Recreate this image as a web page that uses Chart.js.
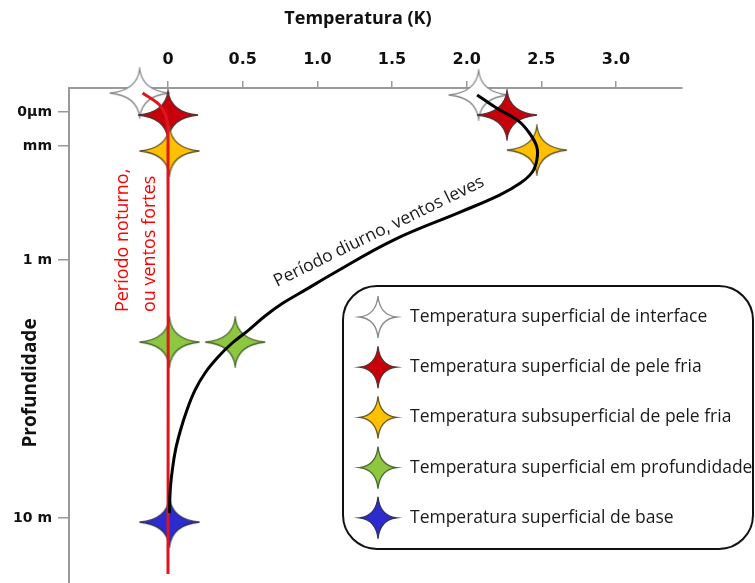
<!DOCTYPE html>
<html>
<head>
<meta charset="utf-8">
<script src="https://cdn.jsdelivr.net/npm/chart.js@4"></script>
<style>
  html, body { margin: 0; padding: 0; background: #fff; }
  #wrap { width: 755px; height: 583px; }
</style>
</head>
<body>
<div id="wrap"><canvas id="perfil"></canvas></div>
<script>
/* Perfil vertical de temperatura (esquemático) — profundidade em unidades
   esquemáticas, eixo invertido (superfície no topo). */

const tempTickVals = [0, 0.5, 1.0, 1.5, 2.0, 2.5, 3.0];
const tempTickLabels = ["0", "0.5", "1.0", "1.5", "2.0", "2.5", "3.0"];

const depthTickVals = [0.8, 1.93, 5.73, 14.33];
const depthTickLabels = ["0μm", "mm", "1 m", "10 m"];

// Período diurno, ventos leves (curva preta)
const diurnoX = [2.07, 2.20, 2.34, 2.42, 2.47, 2.47, 2.44, 2.36, 2.22, 1.96, 1.51, 1.10, 0.92, 0.77, 0.65, 0.54, 0.43, 0.335, 0.248, 0.181, 0.127, 0.084, 0.050, 0.029, 0.015, 0.010];
const diurnoY = [0.23, 0.67, 1.07, 1.5, 1.97, 2.4, 2.8, 3.17, 3.57, 4.13, 5.07, 6.2, 6.73, 7.17, 7.6, 8.07, 8.5, 8.97, 9.5, 10.07, 10.73, 11.4, 12.07, 12.73, 13.4, 14.17];

// Período noturno, ou ventos fortes (linha vermelha)
const noturnoX = [-0.17, -0.06, -0.01, 0.0, 0.0];
const noturnoY = [0.17, 0.55, 1.0, 1.6, 16.2];

// estrelas
const interfaceX = [-0.19, 2.08];
const interfaceY = [0.17, 0.23];
const peleFriaX = [0.0, 2.27];
const peleFriaY = [0.9, 0.9];
const subPeleX = [0.01, 2.47];
const subPeleY = [2.1, 2.07];
const profundX = [0.01, 0.45];
const profundY = [8.47, 8.47];
const baseX = [0.01];
const baseY = [14.47];

const legendLabels = [
  "Temperatura superficial de interface",
  "Temperatura superficial de pele fria",
  "Temperatura subsuperficial de pele fria",
  "Temperatura superficial em profundidade",
  "Temperatura superficial de base",
];
const starColors = ["#ffffff", "#c8000a", "#ffc000", "#8dc63f", "#2b2bd0"];
const starEdges = ["#8a8a8a", "#5a3030", "#6a5a20", "#4a6a30", "#303060"];

function pts(xs, ys) { return xs.map((x, i) => ({ x: x, y: ys[i] })); }

function starPath(ctx, cx, cy, a, b) {
  const k = Math.min(a, b) * 0.1;
  ctx.beginPath();
  ctx.moveTo(cx, cy - b);
  ctx.quadraticCurveTo(cx + k, cy - k, cx + a, cy);
  ctx.quadraticCurveTo(cx + k, cy + k, cx, cy + b);
  ctx.quadraticCurveTo(cx - k, cy + k, cx - a, cy);
  ctx.quadraticCurveTo(cx - k, cy - k, cx, cy - b);
  ctx.closePath();
}

function drawStar(ctx, cx, cy, a, b, fill, edge) {
  ctx.save();
  starPath(ctx, cx, cy, a, b);
  ctx.fillStyle = fill;
  ctx.fill();
  ctx.lineWidth = 1.3;
  ctx.strokeStyle = edge;
  ctx.stroke();
  ctx.restore();
}

function starCanvas(fill, edge) {
  const c = document.createElement("canvas");
  c.width = 62; c.height = 52;
  drawStar(c.getContext("2d"), 31, 26, 30, 24.5, fill, edge);
  return c;
}

function starSet(label, xs, ys, i) {
  return {
    label: label,
    data: pts(xs, ys),
    showLine: false,
    pointStyle: starCanvas(starColors[i], starEdges[i]),
    pointRadius: 20,
    clip: false,
    order: 10 - i,
  };
}

const decor = {
  id: "decor",
  beforeDraw(chart) {
    const ctx = chart.ctx;
    ctx.save();
    ctx.fillStyle = "#fff";
    ctx.fillRect(0, 0, chart.width, chart.height);
    ctx.restore();
  },
  afterDraw(chart) {
    const ctx = chart.ctx;
    const xs = chart.scales.x, ys = chart.scales.y;
    ctx.save();

    // título do eixo x
    ctx.fillStyle = "#111";
    ctx.font = "bold 18px 'Open Sans'";
    ctx.textAlign = "center";
    ctx.textBaseline = "middle";
    ctx.fillText("Temperatura (K)", 358, 19);

    // título do eixo y
    ctx.save();
    ctx.translate(31, 383);
    ctx.rotate(-Math.PI / 2);
    ctx.font = "bold 19px 'Open Sans'";
    ctx.fillText("Profundidade", 0, 0);
    ctx.restore();

    // rótulo noturno (vermelho, vertical)
    ctx.save();
    ctx.translate(xs.getPixelForValue(-0.27), ys.getPixelForValue(7.47));
    ctx.rotate(-Math.PI / 2);
    ctx.font = "18px 'Open Sans'";
    ctx.fillStyle = "#ff0000";
    ctx.textAlign = "left";
    ctx.textBaseline = "alphabetic";
    ctx.fillText("Período noturno,", 0, 0);
    ctx.fillText("ou ventos fortes", 0, 27);
    ctx.restore();

    // rótulo diurno (ao longo da curva)
    ctx.save();
    ctx.translate(xs.getPixelForValue(0.73), ys.getPixelForValue(6.63));
    ctx.rotate(-26 * Math.PI / 180);
    ctx.font = "17.5px 'Open Sans'";
    ctx.fillStyle = "#1a1a1a";
    ctx.textAlign = "left";
    ctx.textBaseline = "alphabetic";
    ctx.fillText("Período diurno, ventos leves", 0, 0);
    ctx.restore();

    // legenda
    ctx.beginPath();
    ctx.roundRect(343, 286, 410, 263, 34);
    ctx.lineWidth = 2;
    ctx.strokeStyle = "#111";
    ctx.stroke();

    ctx.font = "17.5px 'Open Sans'";
    ctx.fillStyle = "#1a1a1a";
    ctx.textAlign = "left";
    ctx.textBaseline = "middle";
    legendLabels.forEach((lab, i) => {
      const y = 317 + i * 50.2;
      drawStar(ctx, 378, y, 18.5, 21, starColors[i], starEdges[i]);
      ctx.fillText(lab, 410, y);
    });

    ctx.restore();
  },
};

new Chart(document.getElementById("perfil"), {
  type: "scatter",
  data: {
    datasets: [
      {
        label: "Período noturno, ou ventos fortes",
        data: pts(noturnoX, noturnoY),
        showLine: true,
        borderColor: "#e0141e",
        borderWidth: 3,
        pointRadius: 0,
        tension: 0.3,
        clip: false,
        order: 1,
      },
      {
        label: "Período diurno, ventos leves",
        data: pts(diurnoX, diurnoY),
        showLine: true,
        borderColor: "#000",
        borderWidth: 3,
        pointRadius: 0,
        tension: 0.4,
        clip: false,
        order: 0,
      },
      starSet(legendLabels[0], interfaceX, interfaceY, 0),
      starSet(legendLabels[1], peleFriaX, peleFriaY, 1),
      starSet(legendLabels[2], subPeleX, subPeleY, 2),
      starSet(legendLabels[3], profundX, profundY, 3),
      starSet(legendLabels[4], baseX, baseY, 4),
    ],
  },
  options: {
    responsive: true,
    maintainAspectRatio: false,
    animation: false,
    layout: { autoPadding: false, padding: { left: 0, top: 0, right: 73, bottom: 0 } },
    plugins: {
      legend: { display: false },
      tooltip: { enabled: false },
    },
    scales: {
      x: {
        type: "linear",
        position: "top",
        min: -0.663,
        max: 3.442,
        afterBuildTicks(scale) { scale.ticks = tempTickVals.map((v) => ({ value: v })); },
        afterFit(scale) { scale.height = 88; },
        ticks: {
          callback: (v, i) => tempTickLabels[i],
          font: { family: "DejaVu Sans", weight: "bold", size: 16 },
          color: "#111",
          padding: 12,
          maxRotation: 0,
        },
        grid: { drawOnChartArea: false, drawTicks: true, tickLength: 7, color: "#999", lineWidth: 1.5 },
        border: { display: true, color: "#999", width: 2 },
      },
      y: {
        type: "linear",
        position: "left",
        reverse: true,
        min: 0,
        max: 16.5,
        afterBuildTicks(scale) { scale.ticks = depthTickVals.map((v) => ({ value: v })); },
        afterFit(scale) {
          scale.width = 69;
          scale.paddingTop = 0;
          scale.paddingBottom = 0;
        },
        ticks: {
          callback: (v, i) => depthTickLabels[i],
          font: { family: "DejaVu Sans", weight: "bold", size: 14 },
          color: "#111",
          padding: 6,
        },
        grid: { drawOnChartArea: false, drawTicks: true, tickLength: 11, color: "#999", lineWidth: 1.5 },
        border: { display: true, color: "#999", width: 2 },
      },
    },
  },
  plugins: [decor],
});
</script>
</body>
</html>
